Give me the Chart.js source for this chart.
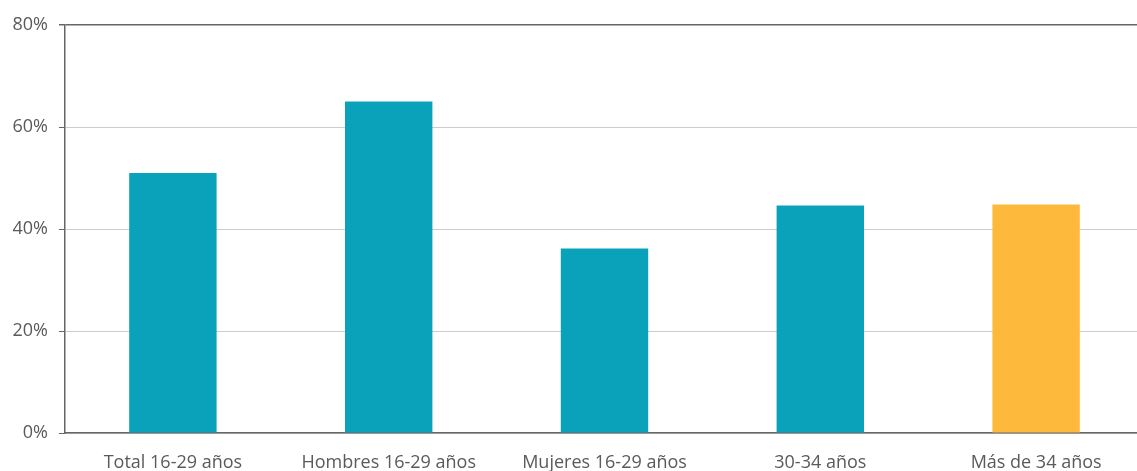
<!DOCTYPE html>
<html>
<head>
<meta charset="utf-8">
<script src="https://cdn.jsdelivr.net/npm/chart.js@4"></script>
<style>
  html, body { margin: 0; padding: 0; background: #fff; overflow: hidden; }
  #wrap { width: 1145px; height: 471px; }
</style>
</head>
<body>
<div id="wrap"><canvas id="barChart"></canvas></div>
<script>
const categories = ["Total 16-29 años", "Hombres 16-29 años", "Mujeres 16-29 años", "30-34 años", "Más de 34 años"];
const values = [51.0, 65.0, 36.2, 44.6, 44.8];
const barColors = ["#0aa2bb", "#0aa2bb", "#0aa2bb", "#0aa2bb", "#fdb93b"];
const yTicks = [0, 20, 40, 60, 80];

const ctx = document.getElementById("barChart").getContext("2d");

const labelFont = { family: "'Open Sans'", size: 18, weight: 400 };

// Chart.js config
let chartConfiguration = {
  type: "bar",
  data: {
    labels: categories,
    datasets: [
      {
        data: values,
        backgroundColor: barColors,
        barPercentage: 0.405,
        categoryPercentage: 1,
      },
    ],
  },
  options: {
    responsive: true,
    maintainAspectRatio: false,
    animation: false,
    layout: { padding: { top: 25, right: 1, bottom: 0, left: 0 } },
    plugins: {
      legend: { display: false },
      tooltip: { enabled: false },
    },
    scales: {
      x: {
        grid: { display: false },
        border: { display: true, color: "#666", width: 1.5 },
        afterFit: (axis) => {
          axis.height = 38;
        },
        ticks: {
          color: "#5a5a5a",
          font: labelFont,
          padding: 11,
        },
      },
      y: {
        min: 0,
        max: 80,
        afterBuildTicks: (axis) => {
          axis.ticks = yTicks.map((v) => ({ value: v }));
        },
        afterFit: (axis) => {
          axis.width = 65;
        },
        grid: {
          color: (c) => (c.tick && c.tick.value === 80 ? "#666" : "#ccc"),
          tickColor: "#666",
          tickLength: 6,
          lineWidth: (c) => (c.tick && c.tick.value === 80 ? 1.5 : 1),
        },
        border: { display: true, color: "#666", width: 1.5 },
        ticks: {
          color: "#5a5a5a",
          font: labelFont,
          padding: 11,
          callback: (v) => v + "%",
        },
      },
    },
  },
};

var chart = new Chart(ctx, chartConfiguration);
</script>
</body>
</html>
